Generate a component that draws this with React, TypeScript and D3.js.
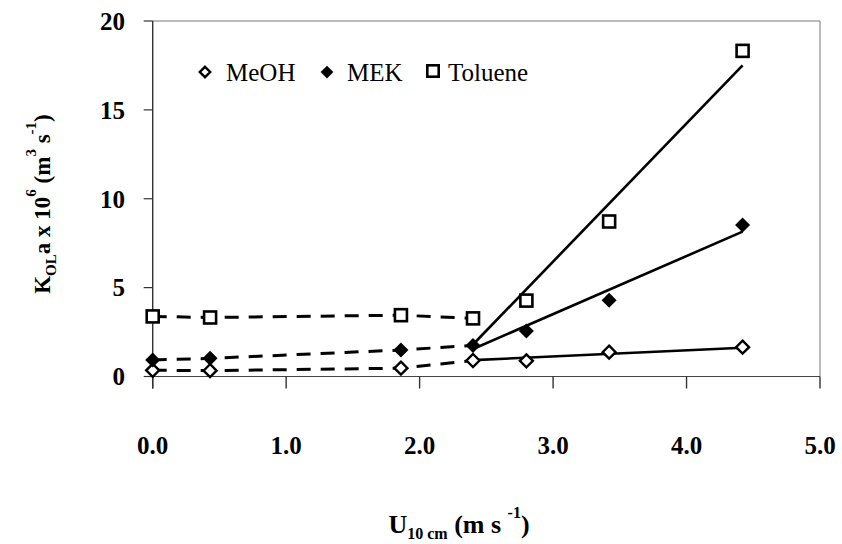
import React from "react";
import * as d3 from "d3";

const WIDTH = 842;
const HEIGHT = 544;

// wind speed at 10 cm (m s-1)
const windSpeed = [0, 0.43, 1.86, 2.4, 2.8, 3.42, 4.42];

// KOLa x 10^6 (m3 s-1) for each compound
const meoh = [0.35, 0.33, 0.47, 0.9, 0.88, 1.37, 1.65];
const mek = [0.93, 1.02, 1.49, 1.75, 2.56, 4.29, 8.53];
const toluene = [3.38, 3.32, 3.45, 3.27, 4.27, 8.72, 18.32];

// dashed part joins the first points, solid part is the fit above 2.4 m/s
const lowCount = 4;
const fitX = [2.4, 4.42];
const meohFit = [0.92, 1.62];
const mekFit = [1.55, 8.15];
const tolueneFit = [1.8, 17.5];

const xTicks = [0, 1, 2, 3, 4, 5];
const yTicks = [0, 5, 10, 15, 20];

const series = [
  { name: "MeOH", values: meoh, fit: meohFit, marker: "openDiamond" },
  { name: "MEK", values: mek, fit: mekFit, marker: "filledDiamond" },
  { name: "Toluene", values: toluene, fit: tolueneFit, marker: "openSquare" },
];

const FONT = "Liberation Serif";

function Marker({ type, x, y, scale = 1 }) {
  if (type === "openSquare") {
    const h = 6 * scale;
    return (
      <rect x={x - h} y={y - h} width={h * 2} height={h * 2}
        fill="white" stroke="#000" strokeWidth={2.6} />
    );
  }
  const r = (type === "filledDiamond" ? 7.5 : 6.5) * scale;
  const d = `M${x},${y - r}L${x + r},${y}L${x},${y + r}L${x - r},${y}Z`;
  return type === "filledDiamond"
    ? <path d={d} fill="#000" />
    : <path d={d} fill="white" stroke="#000" strokeWidth={2.4} />;
}

export default function App() {
  const x = d3.scaleLinear().domain([0, 5]).range([152.7, 820]);
  const y = d3.scaleLinear().domain([0, 20]).range([376.5, 21]);

  const line = d3.line<[number, number]>()
    .x(d => x(d[0]))
    .y(d => y(d[1]));

  const left = x(0);
  const right = x(5);
  const top = y(20);
  const bottom = y(0);

  return (
    <div style={{ position: "fixed", left: 0, top: 0, background: "white" }}>
      <svg width={WIDTH} height={HEIGHT} style={{ display: "block" }}>
        <rect width={WIDTH} height={HEIGHT} fill="white" />

        {/* frame */}
        <line x1={left} x2={right} y1={top} y2={top} stroke="#777" strokeWidth={1} />
        <line x1={right} x2={right} y1={top} y2={bottom} stroke="#777" strokeWidth={1} />
        <line x1={left} x2={left} y1={top} y2={bottom + 12} stroke="#333" strokeWidth={1.4} />
        <line x1={left} x2={right} y1={bottom} y2={bottom} stroke="#444" strokeWidth={1.2} />

        {/* y ticks */}
        {yTicks.map(t => (
          <g key={`y${t}`}>
            <line x1={left - 9} x2={left} y1={y(t)} y2={y(t)} stroke="#333" strokeWidth={1.2} />
            <text x={125} y={y(t)} dy="0.35em" textAnchor="end" fontFamily={FONT}
              fontSize={25} fontWeight="bold">{t}</text>
          </g>
        ))}

        {/* x ticks */}
        {xTicks.map(t => (
          <g key={`x${t}`}>
            <line x1={x(t)} x2={x(t)} y1={bottom} y2={bottom + 12} stroke="#333" strokeWidth={1.4} />
            <text x={x(t)} y={454} textAnchor="middle" fontFamily={FONT}
              fontSize={25} fontWeight="bold">{t.toFixed(1)}</text>
          </g>
        ))}

        {/* lines */}
        {series.map(s => {
          const low = windSpeed.slice(0, lowCount).map((v, i) => [v, s.values[i]] as [number, number]);
          const fit = fitX.map((v, i) => [v, s.fit[i]] as [number, number]);
          return (
            <g key={`l${s.name}`}>
              <path d={line(low) || ""} fill="none" stroke="#000" strokeWidth={3}
                strokeDasharray="14 10" />
              <path d={line(fit) || ""} fill="none" stroke="#000" strokeWidth={2.6} />
            </g>
          );
        })}

        {/* markers */}
        {series.map(s => (
          <g key={`m${s.name}`}>
            {windSpeed.map((v, i) => (
              <Marker key={i} type={s.marker} x={x(v)} y={y(s.values[i])} />
            ))}
          </g>
        ))}

        {/* legend */}
        <Marker type="openDiamond" x={205} y={72} scale={0.8} />
        <text x={226} y={81} fontSize={25} fontFamily={FONT}>MeOH</text>
        <Marker type="filledDiamond" x={327} y={72} scale={0.85} />
        <text x={347} y={81} fontSize={25} fontFamily={FONT}>MEK</text>
        <Marker type="openSquare" x={433} y={71} scale={0.95} />
        <text x={448} y={81} fontSize={25} fontFamily={FONT}>Toluene</text>

        {/* x title */}
        <text x={459} y={533} textAnchor="middle" fontSize={26} fontWeight="bold" fontFamily={FONT}>
          U
          <tspan fontSize={16} dy={6}>10 cm</tspan>
          <tspan dy={-6}> (m s </tspan>
          <tspan fontSize={16} dy={-15}>-1</tspan>
          <tspan dy={15}>)</tspan>
        </text>

        {/* y title */}
        <text transform="translate(50, 204) rotate(-90)" textAnchor="middle"
          fontSize={23} fontWeight="bold" fontFamily={FONT}>
          K
          <tspan fontSize={15} dy={6}>OL</tspan>
          <tspan dy={-6}>a x 10</tspan>
          <tspan fontSize={15} dy={-14}>6</tspan>
          <tspan dy={14}> (m</tspan>
          <tspan fontSize={15} dy={-14}>3</tspan>
          <tspan dy={14}> s</tspan>
          <tspan fontSize={15} dy={-14}>-1</tspan>
          <tspan dy={14}>)</tspan>
        </text>
      </svg>
    </div>
  );
}
